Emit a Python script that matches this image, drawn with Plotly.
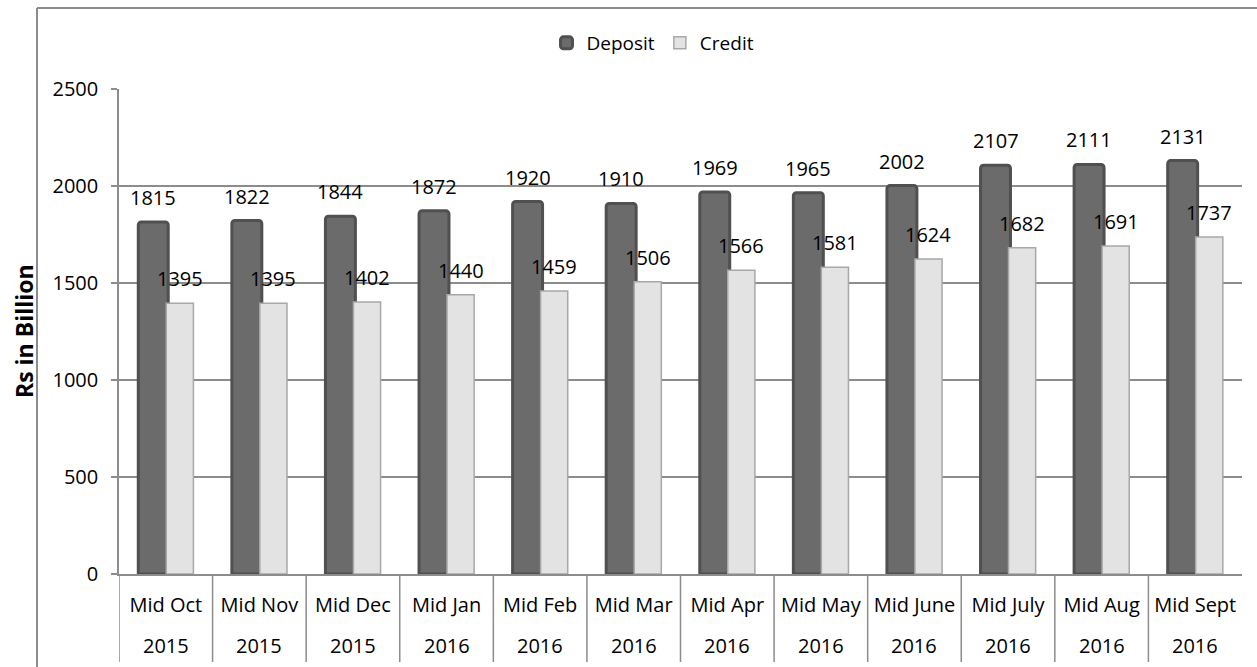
import plotly.graph_objects as go

months = ["Mid Oct", "Mid Nov", "Mid Dec", "Mid Jan", "Mid Feb", "Mid Mar",
          "Mid Apr", "Mid May", "Mid June", "Mid July", "Mid Aug", "Mid Sept"]
years = ["2015", "2015", "2015", "2016", "2016", "2016",
         "2016", "2016", "2016", "2016", "2016", "2016"]
deposit = [1815, 1822, 1844, 1872, 1920, 1910, 1969, 1965, 2002, 2107, 2111, 2131]
credit = [1395, 1395, 1402, 1440, 1459, 1506, 1566, 1581, 1624, 1682, 1691, 1737]
y_ticks = [0, 500, 1000, 1500, 2000, 2500]

FONT = "Open Sans"
GRID = "#8c8c8c"
idx = list(range(len(months)))

# pixel helpers for paper coordinates (plot area: x 119..1242, y 89..574)
L, R, T, B = 119, 1242, 89, 574
def px(x):
    return (x - L) / (R - L)
def py(y):
    return (B - y) / (B - T)

fig = go.Figure()
fig.add_trace(go.Bar(
    name="Deposit", x=idx, y=deposit, width=0.32, offset=-0.294,
    marker=dict(color="#6b6b6b", line=dict(color="#505050", width=3), cornerradius=3),
))
fig.add_trace(go.Bar(
    name="Credit", x=idx, y=credit, width=0.29, offset=0.005,
    marker=dict(color="#e3e3e3", line=dict(color="#a8a8a8", width=1.5)),
))

ann = []
for i, v in zip(idx, deposit):
    ann.append(dict(x=i, y=v, xref="x", yref="y", text=str(v), showarrow=False,
                    xshift=-12.5, yshift=9, yanchor="bottom",
                    font=dict(family=FONT, size=20, color="black")))
for i, v in zip(idx, credit):
    ann.append(dict(x=i, y=v, xref="x", yref="y", text=str(v), showarrow=False,
                    xshift=14, yshift=9, yanchor="bottom",
                    font=dict(family=FONT, size=20, color="black")))
for i, yr in zip(idx, years):
    ann.append(dict(x=i, y=0, xref="x", yref="paper", text=yr, showarrow=False,
                    yshift=-71, yanchor="middle",
                    font=dict(family=FONT, size=20, color="black")))
ann.append(dict(x=px(24), y=py(331), xref="paper", yref="paper", text="<b>Rs in Billion</b>",
                textangle=-90, showarrow=False, xanchor="center", yanchor="middle",
                font=dict(family=FONT, size=23, color="black")))

shapes = []
# category dividers below the axis
for k in range(len(months)):
    shapes.append(dict(type="line", xref="x", yref="paper", x0=k - 0.5, x1=k - 0.5,
                       y0=0, y1=py(662), line=dict(color=GRID, width=1.5)))
# outer chart border (left and top visible)
shapes.append(dict(type="line", xref="paper", yref="paper", x0=px(37), x1=px(37),
                   y0=py(8), y1=py(667), line=dict(color="#8c8c8c", width=2)))
shapes.append(dict(type="line", xref="paper", yref="paper", x0=px(37), x1=px(1257),
                   y0=py(8), y1=py(8), line=dict(color="#8c8c8c", width=2)))

fig.update_layout(
    width=1257, height=667,
    margin=dict(l=L, r=1257 - R, t=T, b=667 - B),
    paper_bgcolor="white", plot_bgcolor="white",
    barmode="overlay",
    font=dict(family=FONT, size=20, color="black"),
    showlegend=True,
    legend=dict(orientation="h", x=px(653), xanchor="center", y=py(43), yanchor="middle",
                font=dict(family=FONT, size=19, color="black"), traceorder="normal",
                itemwidth=30),
    annotations=ann,
    shapes=shapes,
)
fig.update_xaxes(
    tickmode="array", tickvals=idx, ticktext=months, range=[-0.5, len(months) - 0.5],
    showgrid=False, showline=True, linecolor=GRID, linewidth=1.5, ticks="",
    ticklabelstandoff=12, tickfont=dict(family=FONT, size=20, color="black"),
    zeroline=False,
)
fig.update_yaxes(
    range=[0, 2500], tickvals=y_ticks, showgrid=True, gridcolor=GRID, gridwidth=1.5,
    showline=True, linecolor=GRID, linewidth=1.5, ticks="outside", ticklen=6,
    tickcolor=GRID, tickwidth=1.5, ticklabelstandoff=9,
    tickfont=dict(family=FONT, size=20, color="black"), zeroline=False,
)

fig.write_html("out.html", config={"displayModeBar": False},
               post_script="document.body.style.margin='0';document.body.style.overflow='hidden';")
